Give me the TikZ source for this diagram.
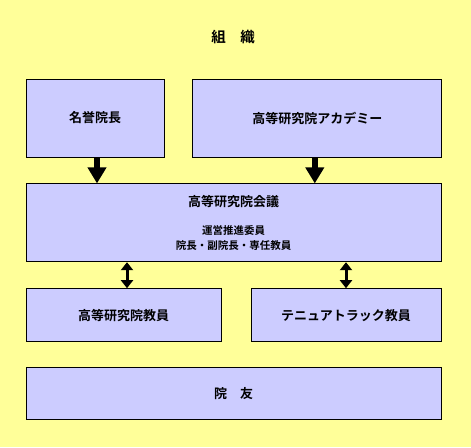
\documentclass[tikz,border=0pt]{standalone}
\usepackage{fontspec}
\setmainfont{Noto Sans CJK JP}[BoldFont={Noto Sans CJK JP Bold}]
\usepackage{xcolor}
\usetikzlibrary{arrows.meta,positioning}
\definecolor{paper}{HTML}{FFFF99}
\definecolor{lilac}{HTML}{CCCCFF}
\newcommand{\subline}[1]{{\fontsize{10.5}{14}\selectfont #1}}

\begin{document}
\begin{tikzpicture}[
  x=1pt, y=-1pt,
  font=\bfseries\fontsize{13}{15}\selectfont,
  unit/.style={draw=black, line width=0.8pt, fill=lilac, inner sep=0pt, align=center},
  flow/.style={-{Triangle[width=18pt, length=16pt]}, line width=6pt},
  link/.style={{Triangle[width=12pt, length=8pt]}-{Triangle[width=12pt, length=8pt]}, line width=3pt}
]
\fill[paper] (0,0) rectangle (471,447);
\useasboundingbox (0,0) rectangle (471,447);

\node[font=\bfseries\fontsize{14.5}{16}\selectfont] (title) at (233,37) {組\hspace{1em}織};
\node[unit, minimum width=138pt, minimum height=78pt] (honor) at (95,118) {名誉院長};
\node[unit, minimum width=249pt, minimum height=78pt, right=28pt of honor] (academy) {高等研究院アカデミー};
\node[unit, minimum width=415pt, minimum height=78pt, below=26pt of honor.south west, anchor=north west] (council)
  {高等研究院会議\\[13pt]\subline{運営推進委員}\\\subline{院長・副院長・専任教員}};
\node[unit, minimum width=195pt, minimum height=53pt, below=26pt of council.south west, anchor=north west] (faculty) {高等研究院教員};
\node[unit, minimum width=190pt, minimum height=53pt, below=26pt of council.south east, anchor=north east] (tenure) {テニュアトラック教員};
\node[unit, minimum width=415pt, minimum height=52pt, below=25pt of faculty.south west, anchor=north west] (alumni) {院\hspace{1em}友};

\draw[flow] ([xshift=2pt]honor.south) -- ([xshift=2pt]honor.south |- council.north);
\draw[flow] ([xshift=-2.5pt]academy.south) -- ([xshift=-2.5pt]academy.south |- council.north);
\draw[link] ([xshift=3.5pt]faculty.north |- council.south) -- ([xshift=3.5pt]faculty.north);
\draw[link] (tenure.north |- council.south) -- (tenure.north);
\end{tikzpicture}
\end{document}
